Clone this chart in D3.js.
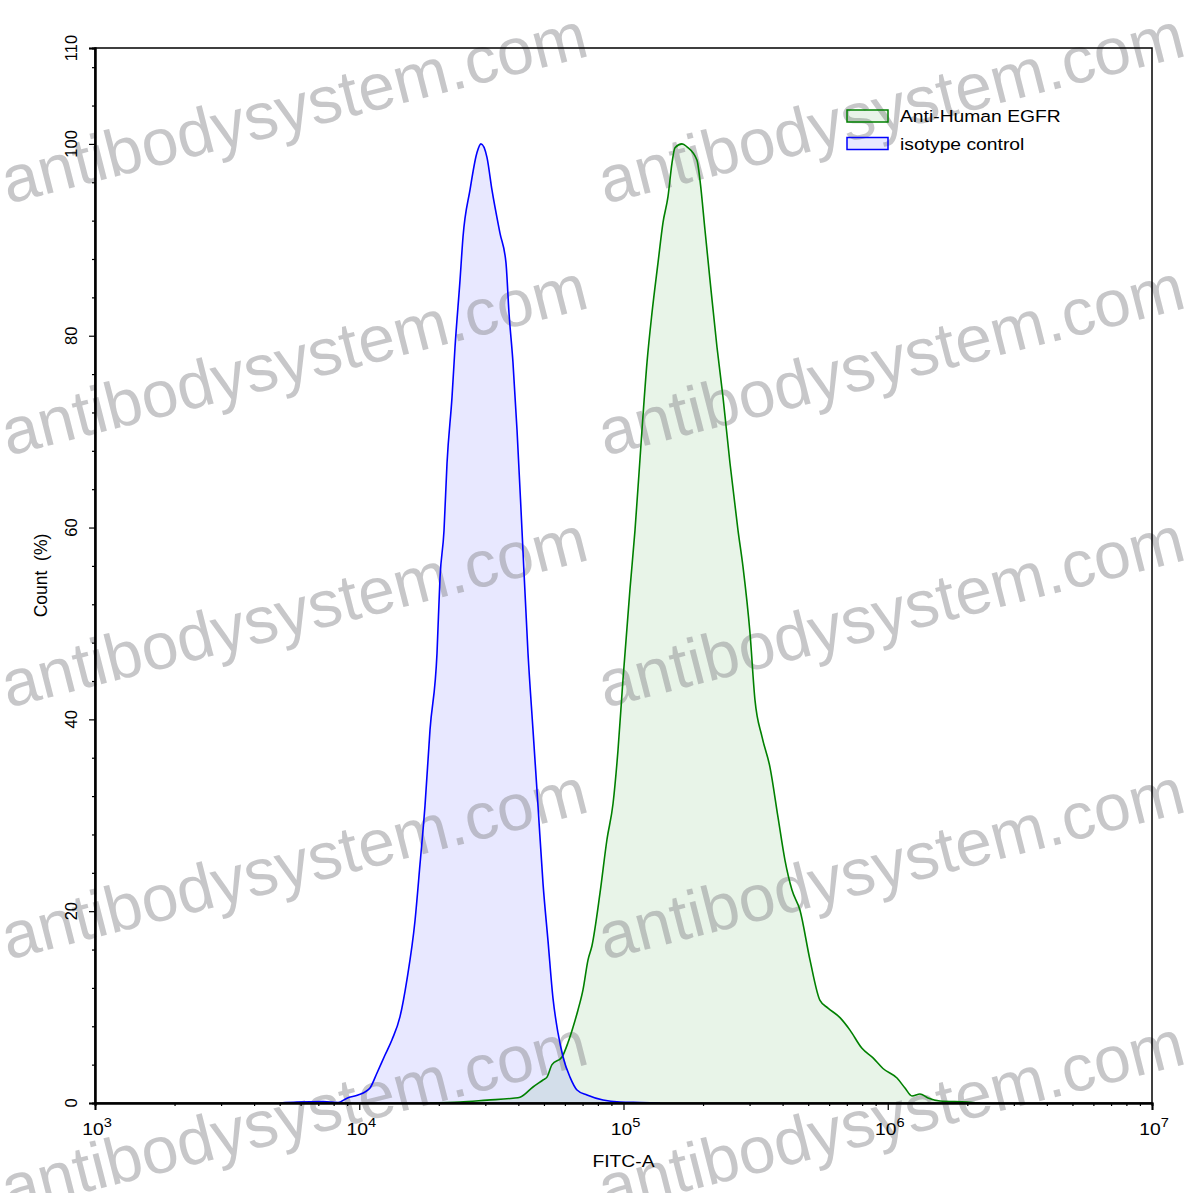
<!DOCTYPE html>
<html>
<head>
<meta charset="utf-8">
<script src="https://cdn.jsdelivr.net/npm/d3@7"></script>
<style>
  html, body { margin: 0; padding: 0; background: #fff; }
  svg { display: block; font-family: "Liberation Sans", Arial, sans-serif; }
</style>
</head>
<body>
<svg id="chart" width="1197" height="1193"></svg>
<script>
// ---------- data ----------
const seriesNames = ["Anti-Human EGFR", "isotype control"];
const seriesColors = ["#008000", "#0000ff"];

// isotype control (blue): FITC-A intensity and Count (%)
const isoX = [5010, 5812, 7294, 8311, 8988, 9892, 10515, 10982, 11672, 12517, 13302, 14264, 15159, 16255,
  16979, 17736, 18525, 19690, 20214, 20929, 21484, 22441, 23034, 24062, 24697, 26249, 27897, 28883,
  30432, 31787, 34084, 35914, 36869, 38174, 39537, 41297, 43511, 45445, 47470, 49590, 51800, 54103,
  56510, 59033, 62740, 66681, 72777, 83658, 97006, 115460, 137440];
const isoY = [0, 0.1, 0.15, 0.05, 0.5, 0.83, 1.15, 1.56, 3.13, 5.0, 6.6, 9.0, 12.9, 19.0,
  24.9, 31.0, 38.9, 46.9, 54.8, 59.7, 66.7, 73.6, 78.8, 85.8, 90.3, 95.2, 99.1, 100,
  98.6, 95.2, 90.7, 87.6, 82.4, 77.2, 70.2, 59.7, 46.9, 38.9, 31.0, 22.9, 16.9, 10.9,
  7.3, 4.8, 2.7, 1.36, 0.83, 0.31, 0.1, 0.05, 0];

// Anti-Human EGFR (green)
const egfrX = [18525, 24062, 30432, 38174, 40580, 45445, 49590, 51350, 53630, 58520, 61660, 64410, 67260,
  70250, 73380, 75980, 81500, 86610, 91270, 95330, 99570, 105830, 110530, 117490, 122710, 128200,
  135070, 141080, 147350, 152570, 156620, 166450, 173870, 189730, 194770, 203440, 212500, 225860,
  237970, 252930, 271220, 283290, 301080, 314470, 334240, 358440, 384290, 408480, 434100, 465480,
  507980, 554090, 594060, 659600, 719590, 798940, 879680, 959400, 1083900, 1162100, 1235200,
  1324300, 1420500, 1576500, 1994500, 2234500];
const egfrY = [0, 0.1, 0.3, 0.5, 0.6, 1.67, 2.4, 2.7, 4.0, 4.8, 6.3, 7.9, 9.7,
  11.8, 14.9, 16.4, 21.9, 27.5, 31.2, 36.8, 44.2, 53.6, 59.7, 70.2, 77.2, 82.4,
  87.6, 91.8, 94.5, 98.0, 99.6, 100, 99.7, 98.3, 96.2, 91.0, 85.8, 78.8,
  73.6, 66.7, 59.7, 55.9, 49.0, 42.0, 38.2, 35.0, 29.8, 25.3, 22.2, 20.1,
  14.9, 10.7, 9.9, 8.9, 7.6, 5.7, 4.7, 3.6, 2.6, 1.56, 0.73,
  0.94, 0.52, 0.21, 0.1, 0];

const xMajorTicks = [1e3, 1e4, 1e5, 1e6, 1e7];
const xTickExponents = ["3", "4", "5", "6", "7"];
const yMajorTicks = [0, 20, 40, 60, 80, 100, 110];
const yTickLabels = ["0", "20", "40", "60", "80", "100", "110"];
const xTitle = "FITC-A";
const yTitle = "Count  (%)";
const watermarkText = "antibodysystem.com";

// ---------- layout ----------
(function () {
const svg = d3.select("#chart");
const pL = 95, pR = 1152, pT = 48, pB = 1103;
const sx = 1.17; // horizontal stretch of horizontal texts
const x = d3.scaleLog().domain([1e3, 1e7]).range([pL, pR]);
const y = d3.scaleLinear().domain([0, 110]).range([pB, pT]);

const xMinor = [];
for (let e = 3; e < 7; e++) for (let k = 2; k <= 9; k++) xMinor.push(k * Math.pow(10, e));
const yMinor = d3.range(4, 110, 4).filter(v => v % 20 !== 0);

const series = [
  { name: seriesNames[0], color: seriesColors[0], xs: egfrX, ys: egfrY },
  { name: seriesNames[1], color: seriesColors[1], xs: isoX, ys: isoY }
];
const area = d3.area().x(d => x(d[0])).y0(y(0)).y1(d => y(d[1])).curve(d3.curveMonotoneX);
const line = d3.line().x(d => x(d[0])).y(d => y(d[1])).curve(d3.curveMonotoneX);

series.forEach(s => {
  const pts = s.xs.map((v, i) => [v, s.ys[i]]);
  svg.append("path").attr("d", area(pts)).attr("fill", s.color).attr("fill-opacity", 0.09);
});

// watermark
const wm = svg.append("g").attr("fill", "#8a8a8e").attr("fill-opacity", 0.48)
  .style("font-size", "66px");
for (let r = 0; r < 5; r++) {
  for (let c = 0; c < 2; c++) {
    const wx = 8 + c * 597, wy = 204 + r * 252;
    wm.append("text").attr("x", wx).attr("y", wy)
      .attr("transform", `rotate(-14.3 ${wx} ${wy})`).text(watermarkText);
  }
}

// lines
series.forEach(s => {
  const pts = s.xs.map((v, i) => [v, s.ys[i]]);
  svg.append("path").attr("d", line(pts)).attr("fill", "none")
    .attr("stroke", s.color).attr("stroke-width", 1.6).attr("stroke-linejoin", "round");
});

// frame
svg.append("rect").attr("x", pL).attr("y", pT).attr("width", pR - pL).attr("height", pB - pT)
  .attr("fill", "none").attr("stroke", "#000").attr("stroke-width", 1.5);

// x axis
const gx = svg.append("g").attr("transform", `translate(0,${pB})`);
gx.call(d3.axisBottom(x).tickValues(xMinor).tickSize(3).tickFormat(""));
const gx2 = svg.append("g").attr("transform", `translate(0,${pB})`);
gx2.call(d3.axisBottom(x).tickValues(xMajorTicks).tickSize(7).tickFormat(""));
svg.selectAll(".domain").attr("stroke-width", 2);
gx.selectAll("line").attr("stroke-width", 1.2);
gx2.selectAll("line").attr("stroke-width", 1.2);

xMajorTicks.forEach((v, i) => {
  const g = svg.append("g").attr("transform", `translate(${x(v) + 2},1135) scale(${sx},1)`);
  const t = g.append("text").attr("text-anchor", "middle").style("font-size", "16.5px");
  t.append("tspan").text("10");
  t.append("tspan").attr("dy", -8).style("font-size", "12.5px").text(xTickExponents[i]);
});

// y axis
const gy = svg.append("g").attr("transform", `translate(${pL},0)`);
gy.call(d3.axisLeft(y).tickValues(yMinor).tickSize(3).tickFormat(""));
const gy2 = svg.append("g").attr("transform", `translate(${pL},0)`);
gy2.call(d3.axisLeft(y).tickValues(yMajorTicks).tickSize(6).tickFormat(""));
svg.selectAll(".domain").attr("stroke-width", 2);
gy.selectAll("line").attr("stroke-width", 1.2);
gy2.selectAll("line").attr("stroke-width", 1.2);

yMajorTicks.forEach((v, i) => {
  svg.append("text").attr("transform", `translate(77,${y(v)}) rotate(-90)`)
    .attr("text-anchor", "middle").style("font-size", "16.5px").text(yTickLabels[i]);
});

// titles
svg.append("g").attr("transform", `translate(${(pL + pR) / 2},1167) scale(${sx},1)`)
  .append("text").attr("text-anchor", "middle").style("font-size", "16.5px").text(xTitle);
svg.append("text").attr("transform", `translate(47,${(pT + pB) / 2}) rotate(-90)`)
  .attr("text-anchor", "middle").style("font-size", "17.5px").style("white-space", "pre").text(yTitle);

// legend
series.forEach((s, i) => {
  const ly = 110 + i * 27.5;
  svg.append("rect").attr("x", 847).attr("y", ly).attr("width", 41).attr("height", 12)
    .attr("fill", s.color).attr("fill-opacity", 0.09).attr("stroke", s.color).attr("stroke-width", 1.5);
  svg.append("g").attr("transform", `translate(900,${ly + 12}) scale(${sx},1)`)
    .append("text").style("font-size", "16.5px").text(s.name);
});
})();
</script>
</body>
</html>
